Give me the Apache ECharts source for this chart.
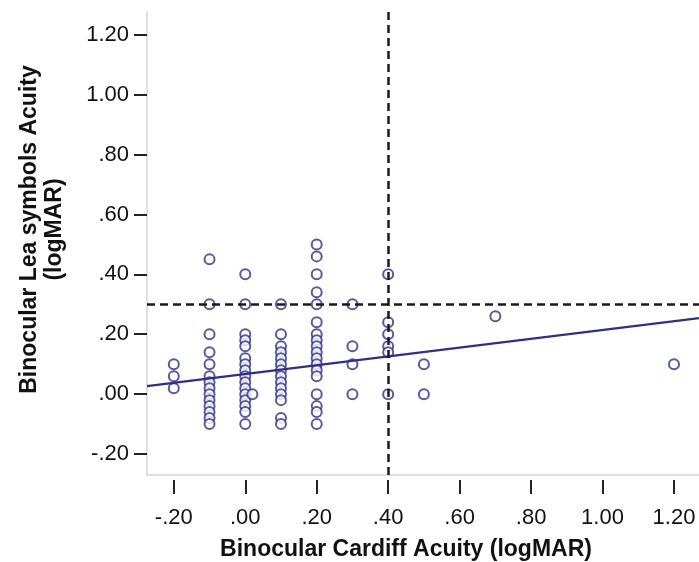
<!DOCTYPE html>
<html>
<head>
<meta charset="utf-8">
<script src="https://cdn.jsdelivr.net/npm/echarts@6/dist/echarts.min.js"></script>
<style>
  html, body { margin: 0; padding: 0; background: #fff; }
  #chart { width: 699px; height: 562px; }
</style>
</head>
<body>
<div id="chart"></div>
<script>
// Cardiff acuity levels (x) and the Lea symbols acuities seen at each level (y)
var cardiffLevels = [-0.2, -0.1, 0.0, 0.02, 0.1, 0.2, 0.3, 0.4, 0.5, 0.7, 1.2];
var leaByLevel = [
  [0.10, 0.06, 0.02],
  [0.45, 0.30, 0.20, 0.14, 0.10, 0.06, 0.04, 0.02, 0.00, -0.02, -0.04, -0.06, -0.08, -0.10],
  [0.40, 0.30, 0.20, 0.18, 0.16, 0.12, 0.10, 0.08, 0.06, 0.04, 0.02, 0.00, -0.02, -0.04, -0.06, -0.10],
  [0.00],
  [0.30, 0.20, 0.16, 0.14, 0.12, 0.10, 0.08, 0.06, 0.04, 0.02, 0.00, -0.02, -0.08, -0.10],
  [0.50, 0.46, 0.40, 0.34, 0.30, 0.24, 0.20, 0.18, 0.16, 0.14, 0.12, 0.10, 0.08, 0.06, 0.00, -0.04, -0.06, -0.10],
  [0.30, 0.16, 0.10, 0.00],
  [0.40, 0.24, 0.20, 0.16, 0.14, 0.00],
  [0.10, 0.00],
  [0.26],
  [0.10]
];
var xTicks = [-0.2, 0, 0.2, 0.4, 0.6, 0.8, 1.0, 1.2];
var yTicks = [-0.2, 0, 0.2, 0.4, 0.6, 0.8, 1.0, 1.2];
// fit line y = a + b*x
var fitIntercept = 0.067;
var fitSlope = 0.147;
// reference cut-offs
var cutX = [0.4];
var cutY = [0.3];

var xMin = -0.275, xMax = 1.27;
var yMin = -0.27, yMax = 1.276;

var navy = '#2d3184';
var font = 'Liberation Sans, Arial, sans-serif';

var points = [];
cardiffLevels.forEach(function (x, i) {
  leaByLevel[i].forEach(function (y) { points.push([x, y]); });
});

var fitLine = [
  [xMin, fitIntercept + fitSlope * xMin],
  [xMax, fitIntercept + fitSlope * xMax]
];

function fmt(v) {
  var s = v.toFixed(2);
  return s.replace(/^0\./, '.').replace(/^-0\./, '-.');
}

var myChart = echarts.init(document.getElementById('chart'));
var option = {
  animation: false,
  grid: { left: 147, right: 0, top: 12, bottom: 87, outerBoundsMode: 'none', containLabel: false },
  xAxis: [
    {
      type: 'value', min: xMin, max: xMax,
      axisLine: { show: true, onZero: false, lineStyle: { color: '#d4d4d4', width: 1.5 } },
      axisTick: { show: false },
      axisLabel: { show: false },
      splitLine: { show: false }
    },
    {
      type: 'value', min: xMin, max: xMax, position: 'bottom', offset: 5,
      axisLine: { show: false, onZero: false },
      axisTick: { show: true, customValues: xTicks, length: 14, lineStyle: { color: '#222', width: 2 } },
      axisLabel: {
        customValues: xTicks, margin: 27, formatter: fmt,
        color: '#111', fontSize: 22, fontFamily: font
      },
      splitLine: { show: false },
      name: 'Binocular Cardiff Acuity (logMAR)',
      nameLocation: 'middle', nameGap: 58,
      nameTextStyle: {
        color: '#111', fontSize: 23, fontWeight: 'bold', fontFamily: font,
        padding: [0, 34, 0, 0]
      }
    }
  ],
  yAxis: {
    type: 'value', min: yMin, max: yMax,
    axisLine: { show: true, onZero: false, lineStyle: { color: '#d4d4d4', width: 1.5 } },
    axisTick: { show: true, customValues: yTicks, length: 13, lineStyle: { color: '#222', width: 2 } },
    axisLabel: {
      customValues: yTicks, margin: 18, formatter: fmt,
      color: '#111', fontSize: 22, fontFamily: font
    },
    splitLine: { show: false },
    name: 'Binocular Lea symbols Acuity\n(logMAR)',
    nameLocation: 'middle', nameGap: 80, nameRotate: 90,
    nameTextStyle: {
      color: '#111', fontSize: 23, fontWeight: 'bold', fontFamily: font,
      lineHeight: 25, align: 'center', padding: [0, 0, 0, 28]
    }
  },
  series: [
    {
      type: 'scatter',
      xAxisIndex: 0,
      data: points,
      symbol: 'emptyCircle',
      symbolSize: 10,
      itemStyle: { color: navy, borderColor: navy, borderWidth: 2.5 },
      markLine: {
        silent: true, symbol: ['none', 'none'], z: 5,
        label: { show: false },
        lineStyle: { color: '#1a1a1a', type: [8, 5], width: 2.5 },
        data: cutY.map(function (v) { return { yAxis: v }; })
          .concat(cutX.map(function (v) { return { xAxis: v }; }))
      }
    },
    {
      type: 'line',
      xAxisIndex: 0,
      data: fitLine,
      symbol: 'none',
      silent: true,
      lineStyle: { color: navy, width: 2.2 }
    }
  ]
};
myChart.setOption(option);
</script>
</body>
</html>
